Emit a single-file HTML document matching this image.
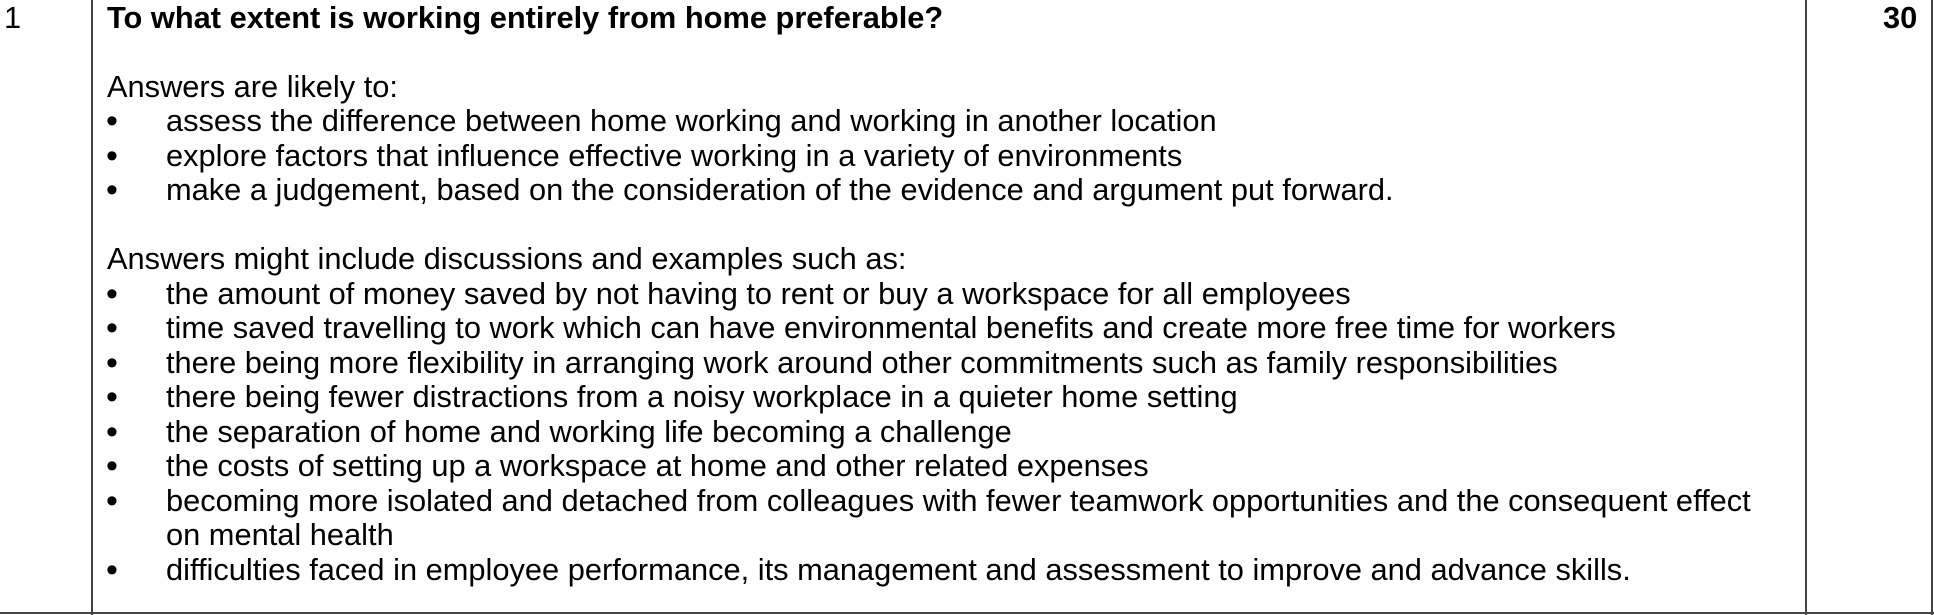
<!DOCTYPE html>
<html><head><meta charset="utf-8"><style>
html,body{margin:0;padding:0;background:#fff;}
body{width:1934px;height:615px;position:relative;overflow:hidden;font-family:"Liberation Sans",Arial,sans-serif;font-size:30.8px;color:#000;}
.vl{position:absolute;top:0;width:2px;background:#444;}
.hl{position:absolute;left:0;height:2px;background:#444;}
.t{position:absolute;white-space:nowrap;line-height:34.5px;height:34.5px;}
</style></head><body>
<div class="vl" style="left:91px;height:615px"></div>
<div class="vl" style="left:1805px;height:615px"></div>
<div class="vl" style="left:1931px;height:615px"></div>
<div class="hl" style="top:612px;width:1934px"></div>
<div class="t" style="left:4px;top:1px">1</div>
<div class="t" style="left:1883px;top:1px;font-weight:bold">30</div>
<div class="t" style="left:107px;top:1px;font-weight:bold">To what extent is working entirely from home preferable?</div>
<div class="t" style="left:107px;top:70px">Answers are likely to:</div>
<script>
const lines=[
[104,"assess the difference between home working and working in another location",true],
[139,"explore factors that influence effective working in a variety of environments",true],
[173,"make a judgement, based on the consideration of the evidence and argument put forward.",true],
[242,"Answers might include discussions and examples such as:",null],
[277,"the amount of money saved by not having to rent or buy a workspace for all employees",true],
[311,"time saved travelling to work which can have environmental benefits and create more free time for workers",true],
[346,"there being more flexibility in arranging work around other commitments such as family responsibilities",true],
[380,"there being fewer distractions from a noisy workplace in a quieter home setting",true],
[415,"the separation of home and working life becoming a challenge",true],
[449,"the costs of setting up a workspace at home and other related expenses",true],
[484,"becoming more isolated and detached from colleagues with fewer teamwork opportunities and the consequent effect",true],
[518,"on mental health",false],
[553,"difficulties faced in employee performance, its management and assessment to improve and advance skills.",true]
];
for(const [y,txt,bul] of lines){
  const d=document.createElement('div');
  d.className='t';
  d.style.top=y+'px';
  d.style.left=(bul===null?107:166)+'px';
  d.textContent=txt;
  
  
  document.body.appendChild(d);
  if(bul){
    const b=document.createElement('div');
    b.className='t';
    b.style.top=y+'px';
    b.style.left='106px';
    b.style.fontSize='34px';
    b.textContent='•';
    
    
    document.body.appendChild(b);
  }
}
</script>
</body></html>
